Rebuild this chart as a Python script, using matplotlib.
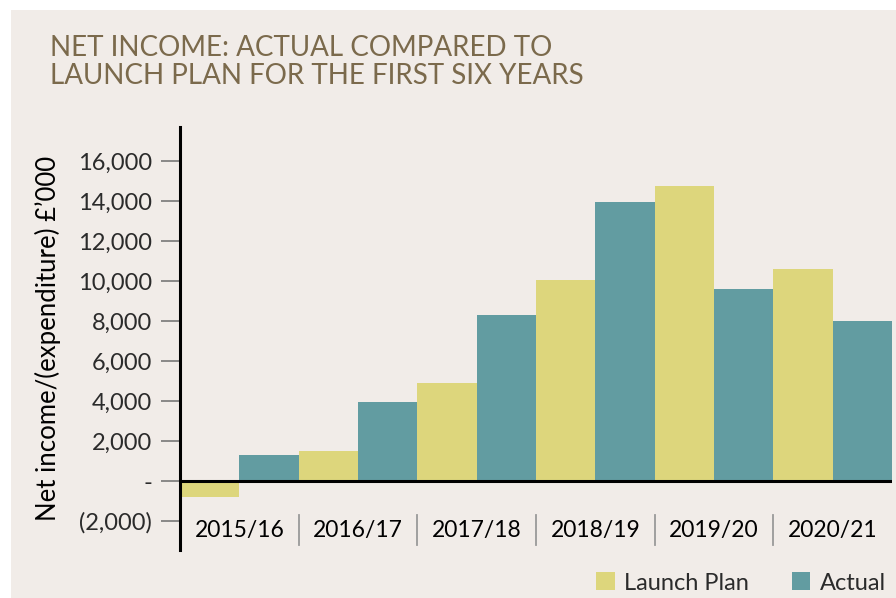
import matplotlib
matplotlib.use("Agg")
import matplotlib.pyplot as plt
from matplotlib.patches import Rectangle, Patch
from matplotlib.transforms import blended_transform_factory

years = ["2015/16", "2016/17", "2017/18", "2018/19", "2019/20", "2020/21"]
launch_plan = [-780, 1500, 4900, 10050, 14750, 10600]
actual = [1300, 3950, 8300, 13950, 9600, 8000]

yticks = [-2000, 0, 2000, 4000, 6000, 8000, 10000, 12000, 14000, 16000]
ytick_labels = ["(2,000)", "-", "2,000", "4,000", "6,000", "8,000",
                "10,000", "12,000", "14,000", "16,000"]

BG = "#f1ece8"
PLAN = "#ddd67c"
ACTUAL = "#629ca1"
TITLE = "#7b6a4c"
TXT = "#2b2b2b"

plt.rcParams["font.family"] = ["Lato", "DejaVu Sans"]

fig = plt.figure(figsize=(8.96, 5.98), dpi=100, facecolor="white")
fig.patches.append(Rectangle((11 / 896, 0), 1, 1 - 10 / 598,
                             transform=fig.transFigure, facecolor=BG,
                             edgecolor="none", zorder=-10))

ax = fig.add_axes([180 / 896, 1 - 550 / 598, 712 / 896, 423 / 598])
ax.set_facecolor("none")

x = list(range(len(years)))
w = 0.5
ax.bar([i - w / 2 for i in x], launch_plan, width=w, color=PLAN, label="Launch Plan")
ax.bar([i + w / 2 for i in x], actual, width=w, color=ACTUAL, label="Actual")

ax.set_xlim(-0.5, len(years) - 0.5)
ax.set_ylim(-3450, 17700)
ax.axhline(0, color="black", lw=2.2, zorder=5)

for s in ["top", "right", "bottom"]:
    ax.spines[s].set_visible(False)
ax.spines["left"].set_linewidth(2.2)
ax.spines["left"].set_color("black")

ax.set_xticks([])
ax.set_yticks(yticks)
ax.set_yticklabels(ytick_labels)
ax.tick_params(axis="y", length=14, width=1.2, color="#777777",
               labelsize=17, labelcolor=TXT, pad=6)

# year labels and little separators sit inside the axes, under the zero line
trans = blended_transform_factory(ax.transData, ax.transAxes)
for i, yr in enumerate(years):
    ax.text(i, 0.047, yr, transform=trans, ha="center", va="center",
            fontsize=16.5, color="black")
for i in range(1, len(years)):
    ax.plot([i - 0.5, i - 0.5], [0.012, 0.083], transform=trans,
            color="#999999", lw=1.3, clip_on=False)

ax.set_ylabel("Net income/(expenditure) £\u2019000", fontsize=18.5,
              color="black", labelpad=12)

fig.text(50 / 896, 1 - 35 / 598,
         "NET INCOME: ACTUAL COMPARED TO\nLAUNCH PLAN FOR THE FIRST SIX YEARS",
         ha="left", va="top", fontsize=20, color=TITLE, linespacing=1.1)

handles = [Patch(facecolor=PLAN, label="Launch Plan"),
           Patch(facecolor=ACTUAL, label="Actual")]
fig.legend(handles=handles, loc="center right", bbox_to_anchor=(886 / 896, 1 - 583 / 598),
           ncol=2, frameon=False, fontsize=17, handlelength=0.8, handleheight=0.8,
           handletextpad=0.4, columnspacing=1.8, labelcolor=TXT,
           borderaxespad=0, borderpad=0)

fig.savefig("out.png", dpi=100, facecolor=fig.get_facecolor())
